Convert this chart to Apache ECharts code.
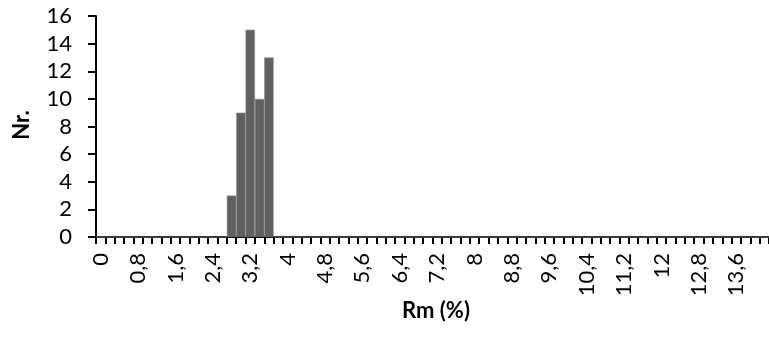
<!DOCTYPE html>
<html>
<head>
<meta charset="utf-8">
<script src="https://cdn.jsdelivr.net/npm/echarts@6/dist/echarts.min.js"></script>
<style>html,body{margin:0;padding:0;background:#fff}#c{width:769px;height:340px}</style>
</head>
<body>
<div id="c"></div>
<script>
// Bin labels (Rm %, step 0.2)
const categories = [
"0","0,2","0,4","0,6","0,8","1","1,2","1,4","1,6","1,8",
"2","2,2","2,4","2,6","2,8","3","3,2","3,4","3,6","3,8",
"4","4,2","4,4","4,6","4,8","5","5,2","5,4","5,6","5,8",
"6","6,2","6,4","6,6","6,8","7","7,2","7,4","7,6","7,8",
"8","8,2","8,4","8,6","8,8","9","9,2","9,4","9,6","9,8",
"10","10,2","10,4","10,6","10,8","11","11,2","11,4","11,6","11,8",
"12","12,2","12,4","12,6","12,8","13","13,2","13,4","13,6","13,8",
"14","14,2"];
// Counts per bin
const counts = [
0,0,0,0,0,0,0,0,0,0,
0,0,0,0,3,9,15,10,13,0,
0,0,0,0,0,0,0,0,0,0,
0,0,0,0,0,0,0,0,0,0,
0,0,0,0,0,0,0,0,0,0,
0,0,0,0,0,0,0,0,0,0,
0,0,0,0,0,0,0,0,0,0,
0,0];
const yTicks = {min: 0, max: 16, interval: 2};
const xTitle = "Rm (%)";
const yTitle = "Nr.";

const FONT = "Lato";
const chart = echarts.init(document.getElementById('c'), null, {renderer: 'canvas'});
chart.setOption({
  animation: false,
  grid: {left: 96, width: 684, top: 16, height: 221, containLabel: false},
  xAxis: {
    type: 'category',
    data: categories,
    boundaryGap: true,
    axisLine: {lineStyle: {color: '#000', width: 2}},
    axisTick: {show: true, interval: 0, length: 7, lineStyle: {color: '#000', width: 2}},
    axisLabel: {interval: 3, rotate: 90, margin: 16, color: '#000', fontFamily: FONT, fontSize: 22},
    splitLine: {show: false}
  },
  yAxis: {
    type: 'value',
    min: yTicks.min, max: yTicks.max, interval: yTicks.interval,
    axisLine: {show: true, lineStyle: {color: '#000', width: 2}},
    axisTick: {show: true, length: 8, lineStyle: {color: '#000', width: 2}},
    axisLabel: {margin: 24, color: '#000', fontFamily: FONT, fontSize: 22},
    splitLine: {show: false}
  },
  graphic: [
    {type: 'text', x: 22, y: 125, rotation: Math.PI/2,
     style: {text: yTitle, fill: '#000', font: 'bold 22px ' + FONT, textAlign: 'center', textVerticalAlign: 'middle'}},
    {type: 'text', x: 436, y: 311,
     style: {text: xTitle, fill: '#000', font: 'bold 22px ' + FONT, textAlign: 'center', textVerticalAlign: 'middle'}}
  ],
  series: [{
    type: 'bar',
    data: counts,
    barCategoryGap: '0%',
    itemStyle: {color: '#606060', borderColor: '#8a8a8a', borderWidth: 0.5}
  }]
});
</script>
</body>
</html>
